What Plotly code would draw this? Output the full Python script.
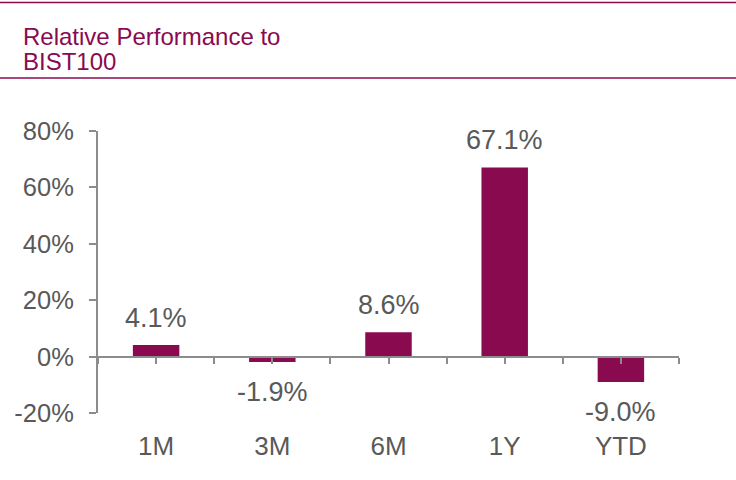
import plotly.graph_objects as go

# chart data
periods = ["1M", "3M", "6M", "1Y", "YTD"]
rel_perf = [4.1, -1.9, 8.6, 67.1, -9.0]
y_ticks = [-20, 0, 20, 40, 60, 80]
title_lines = ["Relative Performance to", "BIST100"]

W, H = 736, 480
ML, MR, MT, MB = 98, 57, 131, 67
plot_w = W - ML - MR
plot_h = H - MT - MB

maroon = "#8A0A50"
grey_txt = "#595959"
grey_line = "#8C8C8C"
font_name = "Liberation Sans, Arial, sans-serif"

y_range = [y_ticks[0], y_ticks[-1]]
zero_pos = (0 - y_range[0]) / (y_range[1] - y_range[0])
x_idx = list(range(len(periods)))


def px_x(px):
    return (px - ML) / plot_w


def px_y(py):
    return (H - MB - py) / plot_h


fig = go.Figure()
fig.add_trace(
    go.Bar(
        x=periods,
        y=rel_perf,
        marker=dict(color=maroon, line=dict(width=0)),
        width=0.4,
        hoverinfo="skip",
    )
)
# invisible copy on the overlay axis so the zero axis (line + ticks) is drawn
fig.add_trace(
    go.Scatter(
        x=x_idx,
        y=rel_perf,
        xaxis="x2",
        mode="markers",
        marker=dict(opacity=0),
        hoverinfo="skip",
    )
)

# value labels above / below the bars
for cat, v in zip(periods, rel_perf):
    fig.add_annotation(
        x=cat,
        y=v,
        xref="x",
        yref="y",
        text=f"{v:.1f}%",
        showarrow=False,
        yanchor="bottom" if v >= 0 else "top",
        yshift=11 if v >= 0 else -14,
        borderpad=0,
        font=dict(size=27, color=grey_txt, family=font_name),
    )

# two-line title
for i, line in enumerate(title_lines):
    fig.add_annotation(
        xref="paper",
        yref="paper",
        x=px_x(21),
        y=px_y(46 + 25 * i),
        xanchor="left",
        yanchor="bottom",
        yshift=-6,
        text=line,
        showarrow=False,
        font=dict(size=24, color=maroon, family=font_name),
    )

fig.update_layout(
    width=W,
    height=H,
    margin=dict(l=ML, r=MR, t=MT, b=MB),
    plot_bgcolor="white",
    paper_bgcolor="white",
    showlegend=False,
    font=dict(family=font_name, color=grey_txt),
    xaxis=dict(
        type="category",
        showline=False,
        ticks="",
        showgrid=False,
        zeroline=False,
        tickfont=dict(size=26, color=grey_txt),
        ticklabelstandoff=15,
        range=[-0.5, len(periods) - 0.5],
    ),
    xaxis2=dict(
        overlaying="x",
        anchor="free",
        position=zero_pos,
        range=[-0.5, len(periods) - 0.5],
        tick0=-0.5,
        dtick=0.5,
        showline=True,
        linecolor=grey_line,
        linewidth=2,
        ticks="outside",
        ticklen=6,
        tickwidth=2,
        tickcolor=grey_line,
        showticklabels=False,
        showgrid=False,
        zeroline=False,
    ),
    yaxis=dict(
        range=y_range,
        tickvals=y_ticks,
        ticktext=[f"{v}%" for v in y_ticks],
        showline=True,
        linecolor=grey_line,
        linewidth=2,
        ticks="outside",
        ticklen=7,
        tickwidth=2,
        tickcolor=grey_line,
        showgrid=False,
        zeroline=False,
        tickfont=dict(size=25.5, color=grey_txt),
        ticklabelstandoff=10,
    ),
    shapes=[
        dict(type="line", xref="paper", yref="paper",
             x0=px_x(0), x1=px_x(W), y0=px_y(2.5), y1=px_y(2.5),
             line=dict(color=maroon, width=1.5)),
        dict(type="line", xref="paper", yref="paper",
             x0=px_x(0), x1=px_x(W), y0=px_y(78), y1=px_y(78),
             line=dict(color=maroon, width=1.5)),
    ],
)

fig.write_html(
    "out.html",
    config={"displayModeBar": False},
    post_script="document.body.style.margin='0';",
)
